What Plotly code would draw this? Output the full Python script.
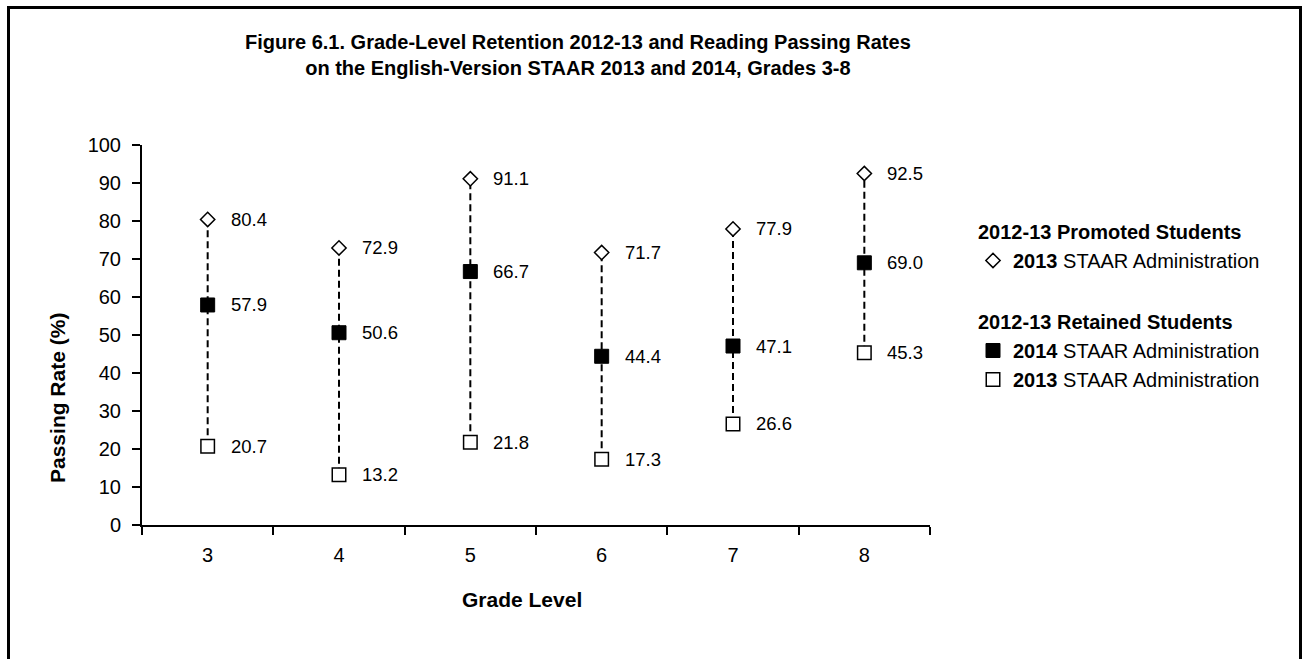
import plotly.graph_objects as go

grades = ["3", "4", "5", "6", "7", "8"]
promoted_2013 = [80.4, 72.9, 91.1, 71.7, 77.9, 92.5]
retained_2014 = [57.9, 50.6, 66.7, 44.4, 47.1, 69.0]
retained_2013 = [20.7, 13.2, 21.8, 17.3, 26.6, 45.3]
y_ticks = [0, 10, 20, 30, 40, 50, 60, 70, 80, 90, 100]

W, H = 1302, 659
FONT = "Liberation Sans, Arial, sans-serif"

def px_x(p):
    return p / W

def px_y(p):
    return 1 - p / H

fig = go.Figure()

# dashed connectors
lx, ly = [], []
for g, lo, hi in zip(grades, retained_2013, promoted_2013):
    lx += [g, g, None]
    ly += [lo, hi, None]
fig.add_trace(go.Scatter(x=lx, y=ly, mode="lines", showlegend=False,
                         line=dict(color="black", width=2, dash="7px,4px"),
                         hoverinfo="skip"))

fig.add_trace(go.Scatter(
    x=grades, y=promoted_2013, mode="markers",
    name="<b>2013</b> STAAR Administration",
    legendgroup="promoted", legendgrouptitle=dict(text="<b>2012-13 Promoted Students</b>"),
    marker=dict(symbol="diamond", size=11, color="white", line=dict(color="black", width=1.5))))
fig.add_trace(go.Scatter(
    x=grades, y=retained_2014, mode="markers",
    name="<b>2014</b> STAAR Administration",
    legendgroup="retained", legendgrouptitle=dict(text="<b>2012-13 Retained Students</b>"),
    marker=dict(symbol="square", size=14, color="black", line=dict(color="black", width=1))))
fig.add_trace(go.Scatter(
    x=grades, y=retained_2013, mode="markers",
    name="<b>2013</b> STAAR Administration",
    legendgroup="retained",
    marker=dict(symbol="square", size=13.5, color="white", line=dict(color="black", width=1.5))))

annotations = []
for series in (promoted_2013, retained_2014, retained_2013):
    for i, v in enumerate(series):
        annotations.append(dict(x=i, y=v, xref="x", yref="y", text=f"{v:.1f}",
                                showarrow=False, xanchor="left", yanchor="middle",
                                xshift=21, font=dict(size=18.5, color="black", family=FONT)))

annotations.append(dict(x=px_x(578), y=px_y(55), xref="paper", yref="paper",
                        text="<b>Figure 6.1. Grade-Level Retention 2012-13 and Reading Passing Rates<br>"
                             "on the English-Version STAAR 2013 and 2014, Grades 3-8</b>",
                        showarrow=False, xanchor="center", yanchor="middle",
                        font=dict(size=20, color="black", family=FONT)))
annotations.append(dict(x=px_x(522), y=px_y(599), xref="paper", yref="paper",
                        text="<b>Grade Level</b>", showarrow=False,
                        xanchor="center", yanchor="middle",
                        font=dict(size=21, color="black", family=FONT)))
annotations.append(dict(x=px_x(57), y=px_y(398), xref="paper", yref="paper",
                        text="<b>Passing Rate (%)</b>", showarrow=False, textangle=-90,
                        xanchor="center", yanchor="middle",
                        font=dict(size=21, color="black", family=FONT)))

fig.update_layout(
    width=W, height=H,
    margin=dict(l=0, r=0, t=0, b=0, autoexpand=False),
    paper_bgcolor="white", plot_bgcolor="white",
    font=dict(family=FONT, size=20, color="black"),
    annotations=annotations,
    showlegend=True,
    legend=dict(x=px_x(973), y=px_y(212), xanchor="left", yanchor="top",
                font=dict(size=20, family=FONT, color="black"),
                grouptitlefont=dict(size=20, family=FONT, color="black"),
                tracegroupgap=32, itemsizing="trace", bgcolor="rgba(0,0,0,0)"),
    shapes=[dict(type="rect", xref="paper", yref="paper",
                 x0=px_x(8.5), x1=px_x(1300.5), y0=-0.05, y1=px_y(7.5),
                 line=dict(color="black", width=3))],
    xaxis=dict(domain=[px_x(142), px_x(930)], type="category",
               categoryorder="array", categoryarray=grades,
               range=[-0.5, 5.5], tickson="boundaries", automargin=False,
               showline=True, linecolor="black", linewidth=2,
               ticks="outside", ticklen=8, tickwidth=2, tickcolor="black",
               showgrid=False, zeroline=False, ticklabelstandoff=11,
               tickfont=dict(size=20, family=FONT)),
    yaxis=dict(domain=[px_y(525), px_y(145)], range=[0, 100], automargin=False,
               tickvals=y_ticks,
               showline=True, linecolor="black", linewidth=2,
               ticks="outside", ticklen=8, tickwidth=2, tickcolor="black",
               showgrid=False, zeroline=False, ticklabelstandoff=7,
               tickfont=dict(size=20, family=FONT)),
)

fig.write_html("out.html", config={"displayModeBar": False},
               post_script="document.body.style.margin='0';")
